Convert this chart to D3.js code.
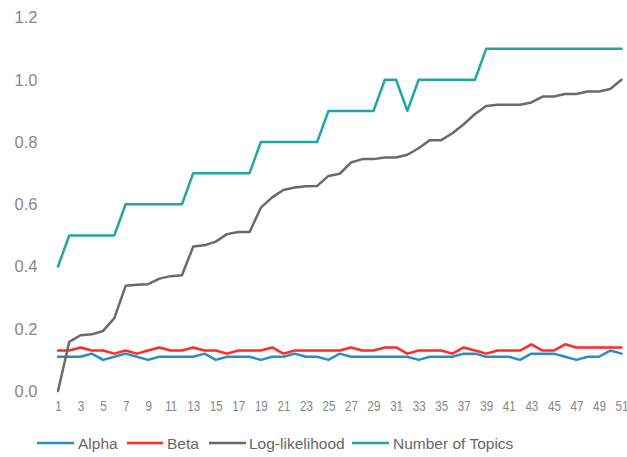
<!DOCTYPE html>
<html>
<head>
<meta charset="utf-8">
<script src="https://cdn.jsdelivr.net/npm/d3@7"></script>
<style>
  html, body { margin: 0; padding: 0; background: #fff; }
  svg { display: block; font-family: "Liberation Sans", Arial, sans-serif; }
</style>
</head>
<body>
<svg id="chart" width="627" height="457"></svg>
<script>
// Iteration index (1..51)
const categories = d3.range(1, 52);

// Normalised model statistics per iteration
const alpha = [0.11,0.11,0.11,0.12,0.10,0.11,0.12,0.11,0.10,0.11,
               0.11,0.11,0.11,0.12,0.10,0.11,0.11,0.11,0.10,0.11,
               0.11,0.12,0.11,0.11,0.10,0.12,0.11,0.11,0.11,0.11,
               0.11,0.11,0.10,0.11,0.11,0.11,0.12,0.12,0.11,0.11,
               0.11,0.10,0.12,0.12,0.12,0.11,0.10,0.11,0.11,0.13,0.12];
const beta = [0.13,0.13,0.14,0.13,0.13,0.12,0.13,0.12,0.13,0.14,
              0.13,0.13,0.14,0.13,0.13,0.12,0.13,0.13,0.13,0.14,
              0.12,0.13,0.13,0.13,0.13,0.13,0.14,0.13,0.13,0.14,
              0.14,0.12,0.13,0.13,0.13,0.12,0.14,0.13,0.12,0.13,
              0.13,0.13,0.15,0.13,0.13,0.15,0.14,0.14,0.14,0.14,0.14];
const logLikelihood = [0.000,0.158,0.179,0.182,0.193,0.234,0.338,0.341,0.343,0.361,
                       0.369,0.372,0.464,0.468,0.480,0.504,0.511,0.511,0.589,0.622,
                       0.646,0.654,0.658,0.659,0.691,0.698,0.734,0.745,0.745,0.750,
                       0.750,0.759,0.780,0.806,0.806,0.828,0.857,0.890,0.916,0.920,
                       0.920,0.920,0.927,0.946,0.946,0.954,0.954,0.962,0.962,0.970,1.000];
const numTopics = [0.4,0.5,0.5,0.5,0.5,0.5,0.6,0.6,0.6,0.6,
                   0.6,0.6,0.7,0.7,0.7,0.7,0.7,0.7,0.8,0.8,
                   0.8,0.8,0.8,0.8,0.9,0.9,0.9,0.9,0.9,1.0,
                   1.0,0.9,1.0,1.0,1.0,1.0,1.0,1.0,1.1,1.1,
                   1.1,1.1,1.1,1.1,1.1,1.1,1.1,1.1,1.1,1.1,1.1];

const yTicks = [0, 0.2, 0.4, 0.6, 0.8, 1.0, 1.2];
const xTickLabels = categories.filter(c => c % 2 === 1);

const seriesNames = ["Alpha", "Beta", "Log-likelihood", "Number of Topics"];
const seriesValues = [alpha, beta, logLikelihood, numTopics];
const seriesColors = ["#2a8dc2", "#ff2a2a", "#6a6a6a", "#1fa7a1"];

const svg = d3.select("#chart");
const margin = { left: 58, right: 5.5, top: 17.5, bottom: 66 };
const W = 627, H = 457;

const x = d3.scalePoint()
  .domain(categories)
  .range([margin.left, W - margin.right]);

const y = d3.scaleLinear()
  .domain([0, 1.2])
  .range([H - margin.bottom, margin.top]);

// Y axis labels (no axis line or ticks)
const yAxis = d3.axisLeft(y)
  .tickValues(yTicks)
  .tickFormat(d3.format(".1f"))
  .tickSize(0)
  .tickPadding(0);
const gy = svg.append("g")
  .attr("transform", "translate(37.5,0)")
  .call(yAxis);
gy.select(".domain").remove();
gy.selectAll("text")
  .attr("fill", "#878787")
  .style("font-size", "16.5px")
  .style("font-family", "\"Liberation Sans\", Arial, sans-serif");

// X axis labels: every other iteration, slightly condensed
const xAxis = d3.axisBottom(x)
  .tickValues(xTickLabels)
  .tickSize(0)
  .tickPadding(0);
const gx = svg.append("g")
  .attr("transform", "translate(0,399)")
  .call(xAxis);
gx.select(".domain").remove();
gx.selectAll(".tick text")
  .attr("fill", "#878787")
  .attr("dy", 0)
  .attr("y", 11.5)
  .attr("transform", "scale(0.8,1)")
  .style("font-size", "14.5px")
  .style("font-family", "\"Liberation Sans\", Arial, sans-serif");

// Series lines
const line = d3.line()
  .x((d, i) => x(categories[i]))
  .y(d => y(d));

seriesValues.forEach((vals, k) => {
  svg.append("path")
    .datum(vals)
    .attr("fill", "none")
    .attr("stroke", seriesColors[k])
    .attr("stroke-width", 2.5)
    .attr("stroke-linejoin", "round")
    .attr("stroke-linecap", "round")
    .attr("d", line);
});

// Legend
const legendItems = [
  { x0: 37, x1: 74, tx: 78 },
  { x0: 127, x1: 163, tx: 167 },
  { x0: 209, x1: 246, tx: 249 },
  { x0: 352, x1: 389, tx: 393 }
];
const legendY = 443;
const lg = svg.append("g");
legendItems.forEach((p, i) => {
  lg.append("line")
    .attr("x1", p.x0).attr("x2", p.x1)
    .attr("y1", legendY).attr("y2", legendY)
    .attr("stroke", seriesColors[i])
    .attr("stroke-width", 2.5);
  lg.append("text")
    .attr("x", p.tx)
    .attr("y", legendY + 5.5)
    .attr("fill", "#666666")
    .style("font-size", "15.5px")
    .text(seriesNames[i]);
});
</script>
</body>
</html>
